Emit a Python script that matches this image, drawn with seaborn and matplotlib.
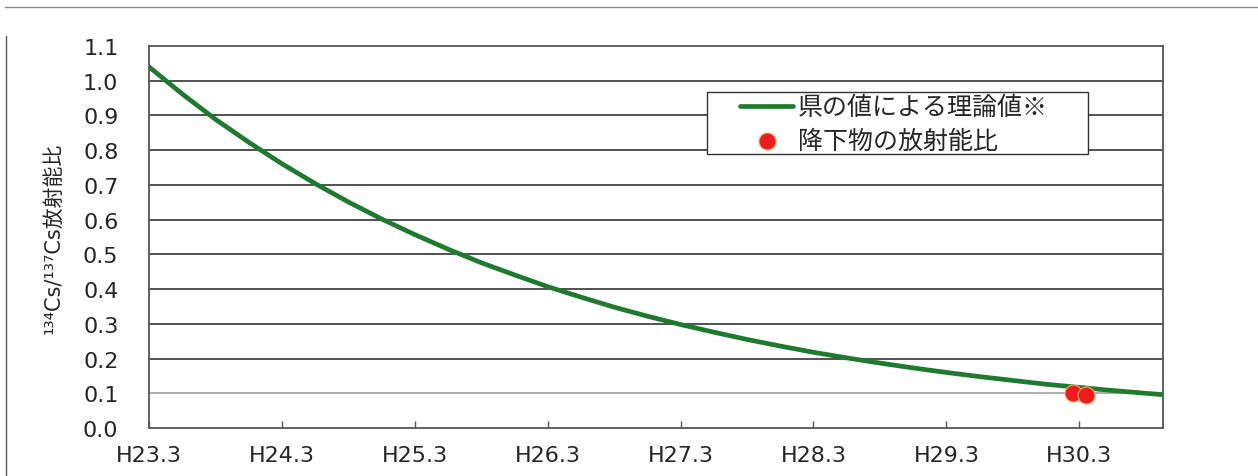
import numpy as np
import pandas as pd
import matplotlib.pyplot as plt
import seaborn as sns
from matplotlib.patches import Rectangle

# Data (years elapsed since H23.3)
curve_years = [0.0, 0.25, 0.5, 0.75, 1.0, 1.25, 1.5, 1.75, 2.0, 2.25, 2.5, 2.75, 3.0, 3.25,
               3.5, 3.75, 4.0, 4.25, 4.5, 4.75, 5.0, 5.25, 5.5, 5.75, 6.0, 6.25, 6.5, 6.75,
               7.0, 7.25, 7.5, 7.63]
curve_ratio = [1.040, 0.962, 0.889, 0.823, 0.761, 0.704, 0.651, 0.602, 0.557, 0.515, 0.476, 0.441,
               0.407, 0.377, 0.348, 0.322, 0.298, 0.276, 0.255, 0.236, 0.218, 0.202, 0.187, 0.173,
               0.160, 0.148, 0.137, 0.126, 0.117, 0.108, 0.100, 0.096]
fall_years = [6.95, 7.05]
fall_ratio = [0.10, 0.095]
tick_labels = ["H23.3", "H24.3", "H25.3", "H26.3", "H27.3", "H28.3", "H29.3", "H30.3"]

curve = pd.DataFrame({"year": curve_years, "ratio": curve_ratio})
fall = pd.DataFrame({"year": fall_years, "ratio": fall_ratio})

sns.set_style("white")
plt.rcParams["font.family"] = ["DejaVu Sans", "Noto Sans CJK JP"]

fig = plt.figure(figsize=(12.58, 4.77), dpi=100)
ax = fig.add_axes([0.1184, 0.1006, 0.8061, 0.8009])

# grid lines
for i, v in enumerate(np.arange(0.1, 1.01, 0.1)):
    ax.axhline(v, color="#999999" if i == 0 else "#222222", lw=1.1, zorder=1)

sns.lineplot(data=curve, x="year", y="ratio", ax=ax, color="#1e7b2e", lw=3.4,
             label="県の値による理論値※", zorder=3)
sns.scatterplot(data=fall, x="year", y="ratio", ax=ax, color="#ee1c1c", s=150,
                edgecolor="#f5b060", linewidth=0.8, label="降下物の放射能比", zorder=4)

ax.set_xlim(0, 7.63)
ax.set_ylim(0, 1.1)
ax.set_yticks(np.arange(0, 1.11, 0.1))
ax.set_yticklabels([f"{v:.1f}" for v in np.arange(0, 1.11, 0.1)], fontsize=16)
ax.set_xticks(range(len(tick_labels)))
ax.set_xticklabels(tick_labels, fontsize=16)
ax.tick_params(axis="x", direction="in", length=5, width=1, color="#555555", pad=12, bottom=True)
ax.tick_params(axis="y", length=0, pad=22)
ax.set_xlabel("")
ax.set_ylabel("¹³⁴Cs/¹³⁷Cs放射能比", fontsize=15, labelpad=14,
              family=["DejaVu Sans", "Noto Sans CJK JP"])
for s in ax.spines.values():
    s.set_color("#555555")
    s.set_linewidth(1.3)

# legend box drawn separately so it can be wider than its contents
ax.add_patch(Rectangle((0.5503, 0.717), 0.3757, 0.1623, transform=ax.transAxes,
                       facecolor="white", edgecolor="#333333", lw=1.0, zorder=5))
leg = ax.legend(loc="upper left", bbox_to_anchor=(0.571, 0.906),
                prop={"family": ["Noto Sans CJK JP"], "size": 18},
                frameon=False, handlelength=2.1, borderpad=0, labelspacing=0.3,
                handletextpad=0.2)
leg.set_zorder(6)

# outer frame lines of the picture
fig.add_artist(plt.Line2D([0.004, 1.0], [0.983, 0.983], color="#888888", lw=1))
fig.add_artist(plt.Line2D([0.005, 0.005], [0.0, 0.922], color="#555555", lw=1))

fig.savefig("out.png", dpi=100)
